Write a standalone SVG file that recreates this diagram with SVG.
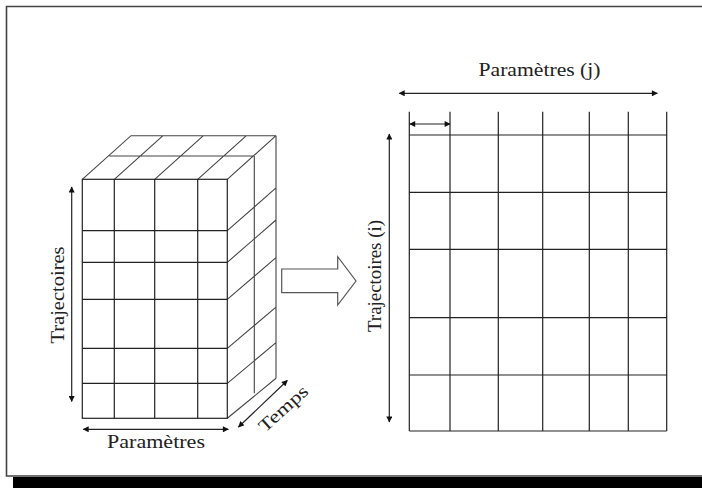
<svg xmlns="http://www.w3.org/2000/svg" width="702" height="488" viewBox="0 0 702 488">
<defs>
<style>
.ln{stroke:#222;stroke-width:1.2;fill:none}
.lg{stroke:#444;stroke-width:1.1;fill:none}
.ar{stroke:#222;stroke-width:1.2;fill:none;marker-start:url(#ah);marker-end:url(#ah)}
.tx{font-family:"Liberation Serif","Times New Roman",serif;font-size:18px;fill:#222}
</style>
<marker id="ah" viewBox="0 0 10 10" refX="9" refY="5" markerWidth="7" markerHeight="6" orient="auto-start-reverse" markerUnits="userSpaceOnUse">
<path d="M0,0 L10,5 L0,10 Z" fill="#111"/>
</marker>
</defs>
<rect x="0" y="0" width="702" height="488" fill="#fff"/>
<g id="frame">
<path d="M710,6.5 H6.5 V476 H710" fill="none" stroke="#444" stroke-width="1.6"/>
<rect x="13" y="477" width="689" height="11" fill="#000"/>
</g>
<g id="cube">
<path class="lg" d="M82.3,179.3 L131,135.7 H276 M114.3,179.3 L163,135.7 M154.7,179.3 L203.4,135.7 M197.7,179.3 L246.4,135.7 M227.3,179.3 L276,135.7 M109.3,156 H254.3"/>
<path class="lg" d="M276,135.7 V378.3 M254.3,156 V393.3 M227.3,230.7 L276,187.9 M227.3,262.3 L276,220 M227.3,299.3 L276,257.6 M227.3,348.3 L276,307.2 M227.3,383.3 L276,342.7 M227.3,418.3 L276,378.3"/>
<rect class="ln" x="82.3" y="179.3" width="145" height="239"/>
<path class="ln" d="M114.3,179.3 V418.3 M154.7,179.3 V418.3 M197.7,179.3 V418.3 M82.3,230.7 H227.3 M82.3,262.3 H227.3 M82.3,299.3 H227.3 M82.3,348.3 H227.3 M82.3,383.3 H227.3"/>
</g>
<g id="grid">
<path class="ln" d="M409.3,111.7 V431 M450,111.7 V431 M498.3,111.7 V431 M542.7,111.7 V431 M589.3,111.7 V431 M628.3,111.7 V431 M666.7,111.7 V431 M409.3,135 H666.7 M409.3,192.3 H666.7 M409.3,249.3 H666.7 M409.3,317.7 H666.7 M409.3,375 H666.7 M409.3,431 H666.7"/>
</g>
<g id="big-arrow">
<path d="M281.7,269 H337.7 V256.7 L356,281 L337.7,305 V292.7 H281.7 Z" fill="#fff" stroke="#555" stroke-width="1.2"/>
</g>
<g id="connectors">
<line class="ar" x1="71.7" y1="187" x2="71.7" y2="401.5"/>
<line class="ar" x1="83.3" y1="429.3" x2="228.3" y2="429.3"/>
<line class="ar" x1="238.5" y1="427" x2="287.3" y2="380.5"/>
<line class="ar" x1="399.3" y1="93.3" x2="657.3" y2="93.3"/>
<line class="ar" x1="409.8" y1="124" x2="450" y2="124"/>
<line class="ar" x1="389.3" y1="134" x2="389.3" y2="422"/>
</g>
<g id="labels">
<text class="tx" x="107" y="447.7" textLength="98" lengthAdjust="spacingAndGlyphs">Paramètres</text>
<text class="tx" transform="translate(63.5,343.5) rotate(-90)" textLength="97" lengthAdjust="spacingAndGlyphs">Trajectoires</text>
<text class="tx" transform="translate(265,433) rotate(-42)" textLength="60" lengthAdjust="spacingAndGlyphs">Temps</text>
<text class="tx" x="478.5" y="76" textLength="122" lengthAdjust="spacingAndGlyphs">Paramètres (j)</text>
<text class="tx" transform="translate(381,332) rotate(-90)" textLength="112" lengthAdjust="spacingAndGlyphs">Trajectoires (i)</text>
</g>
</svg>
